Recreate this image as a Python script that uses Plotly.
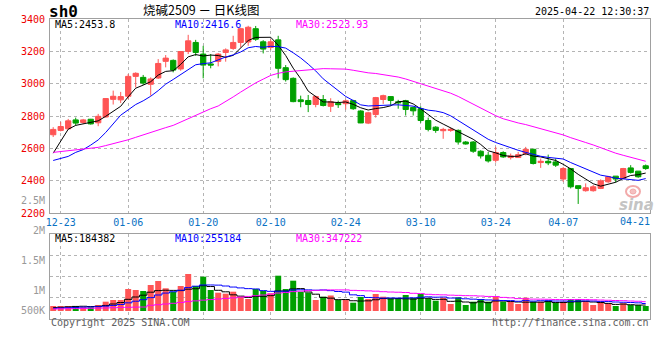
import plotly.graph_objects as go

# ---------------- data ----------------
dates = [
    "2024-12-20", "2024-12-23", "2024-12-24", "2024-12-25", "2024-12-26", "2024-12-27", "2024-12-30", "2024-12-31",
    "2025-01-02", "2025-01-03", "2025-01-06", "2025-01-07", "2025-01-08", "2025-01-09", "2025-01-10",
    "2025-01-13", "2025-01-14", "2025-01-15", "2025-01-16", "2025-01-17", "2025-01-20", "2025-01-21",
    "2025-01-22", "2025-01-23", "2025-01-24", "2025-01-27", "2025-02-05", "2025-02-06", "2025-02-07",
    "2025-02-10", "2025-02-11", "2025-02-12", "2025-02-13", "2025-02-14", "2025-02-17", "2025-02-18",
    "2025-02-19", "2025-02-20", "2025-02-21", "2025-02-24", "2025-02-25", "2025-02-26", "2025-02-27",
    "2025-02-28", "2025-03-03", "2025-03-04", "2025-03-05", "2025-03-06", "2025-03-07", "2025-03-10",
    "2025-03-11", "2025-03-12", "2025-03-13", "2025-03-14", "2025-03-17", "2025-03-18", "2025-03-19",
    "2025-03-20", "2025-03-21", "2025-03-24", "2025-03-25", "2025-03-26", "2025-03-27", "2025-03-28",
    "2025-03-31", "2025-04-01", "2025-04-02", "2025-04-03", "2025-04-07", "2025-04-08", "2025-04-09",
    "2025-04-10", "2025-04-11", "2025-04-14", "2025-04-15", "2025-04-16", "2025-04-17", "2025-04-18",
    "2025-04-21", "2025-04-22",
]

open_ = [2684, 2711, 2721, 2776, 2760, 2780, 2758, 2794, 2903, 2900,
         2922, 3045, 3039, 2996, 3035, 3138, 3144, 3091, 3199, 3255,
         3183, 3122, 3138, 3193, 3218, 3255, 3258, 3340, 3259, 3224,
         3271, 3099, 3033, 2900, 2896, 2871, 2902, 2860, 2878, 2876,
         2895, 2831, 2756, 2809, 2902, 2920, 2888, 2895, 2853, 2845,
         2772, 2731, 2709, 2711, 2711, 2639, 2639, 2582, 2557, 2526,
         2574, 2543, 2543, 2568, 2594, 2512, 2520, 2516, 2410, 2475,
         2369, 2338, 2338, 2352, 2393, 2428, 2414, 2479, 2459, 2492]
high = [2731, 2764, 2782, 2790, 2782, 2782, 2813, 2910, 2957, 2949,
        3060, 3070, 3054, 3039, 3152, 3177, 3150, 3200, 3302, 3271,
        3234, 3183, 3189, 3218, 3296, 3346, 3358, 3357, 3269, 3275,
        3296, 3115, 3039, 2926, 2930, 2926, 2930, 2910, 2895, 2902,
        2900, 2836, 2826, 2918, 2932, 2922, 2900, 2900, 2858, 2860,
        2790, 2737, 2727, 2727, 2717, 2645, 2645, 2588, 2578, 2609,
        2582, 2568, 2578, 2609, 2598, 2537, 2561, 2537, 2485, 2479,
        2369, 2383, 2373, 2408, 2430, 2428, 2479, 2496, 2459, 2500]
low = [2670, 2705, 2717, 2741, 2751, 2747, 2737, 2790, 2871, 2880,
       2905, 2977, 2992, 2926, 3029, 3101, 3070, 3080, 3183, 3172,
       3033, 3095, 3107, 3136, 3209, 3224, 3234, 3265, 3187, 3209,
       3033, 3013, 2885, 2854, 2824, 2854, 2859, 2825, 2850, 2840,
       2838, 2756, 2750, 2790, 2875, 2863, 2845, 2803, 2803, 2758,
       2705, 2696, 2659, 2702, 2623, 2623, 2572, 2537, 2512, 2512,
       2541, 2531, 2541, 2557, 2500, 2479, 2496, 2485, 2393, 2352,
       2256, 2332, 2332, 2348, 2387, 2389, 2410, 2444, 2418, 2467]
close = [2717, 2735, 2770, 2756, 2776, 2751, 2798, 2908, 2922, 2920,
         3045, 3064, 3004, 3029, 3125, 3158, 3084, 3199, 3265, 3193,
         3115, 3115, 3183, 3209, 3255, 3340, 3349, 3275, 3214, 3259,
         3095, 3025, 2889, 2889, 2871, 2920, 2865, 2888, 2870, 2894,
         2845, 2757, 2820, 2914, 2926, 2896, 2882, 2840, 2832, 2772,
         2717, 2711, 2717, 2717, 2639, 2627, 2582, 2553, 2522, 2574,
         2547, 2553, 2561, 2594, 2506, 2520, 2510, 2496, 2475, 2362,
         2352, 2356, 2362, 2399, 2424, 2410, 2475, 2451, 2424, 2475]

ma5 = [2570, 2645, 2718, 2742, 2751, 2758, 2770, 2798, 2831, 2860,
       2919, 2972, 2991, 3012, 3053, 3076, 3080, 3119, 3166, 3180,
       3171, 3177, 3174, 3163, 3175, 3220, 3267, 3286, 3287, 3287,
       3238, 3174, 3096, 3031, 2954, 2919, 2887, 2887, 2883, 2887,
       2872, 2851, 2837, 2846, 2852, 2863, 2888, 2892, 2875, 2844,
       2809, 2774, 2750, 2727, 2700, 2682, 2656, 2624, 2585, 2572,
       2556, 2550, 2551, 2566, 2552, 2547, 2538, 2525, 2501, 2473,
       2439, 2408, 2381, 2366, 2379, 2390, 2414, 2432, 2437, 2447]
ma10 = [2525, 2537, 2550, 2575, 2592, 2620, 2652, 2698, 2750, 2805,
        2838, 2871, 2894, 2922, 2957, 2997, 3026, 3055, 3089, 3117,
        3124, 3129, 3147, 3165, 3178, 3196, 3222, 3230, 3225, 3231,
        3229, 3220, 3191, 3159, 3121, 3079, 3030, 2992, 2957, 2921,
        2896, 2869, 2862, 2864, 2870, 2868, 2869, 2864, 2861, 2848,
        2836, 2831, 2821, 2801, 2772, 2745, 2715, 2687, 2656, 2636,
        2619, 2603, 2588, 2575, 2562, 2551, 2544, 2538, 2534, 2512,
        2493, 2473, 2453, 2434, 2426, 2415, 2411, 2407, 2402, 2413]
ma30 = [2575, 2580, 2585, 2590, 2595, 2600, 2606, 2617, 2628, 2641,
        2653, 2668, 2684, 2699, 2714, 2728, 2742, 2763, 2783, 2805,
        2825, 2845, 2862, 2888, 2918, 2948, 2978, 3005, 3028, 3051,
        3064, 3073, 3077, 3082, 3085, 3091, 3093, 3092, 3090, 3090,
        3083, 3073, 3067, 3063, 3056, 3047, 3041, 3029, 3014, 3000,
        2987, 2973, 2958, 2941, 2921, 2897, 2872, 2848, 2824, 2802,
        2783, 2768, 2757, 2747, 2735, 2721, 2710, 2696, 2683, 2666,
        2649, 2636, 2621, 2603, 2587, 2570, 2557, 2544, 2530, 2520]

# volume, in 10,000 lots (万手)
volume = [17.5, 17.5, 17.5, 17.5, 13.0, 13.0, 21.0, 32.6, 38.5, 38.5,
          77.0, 73.5, 70.0, 91.0, 105.0, 79.5, 67.6, 87.5, 129.5, 87.5,
          120.1, 73.5, 64.1, 60.6, 67.6, 50.1, 42.0, 77.0, 70.0, 62.0,
          123.6, 77.0, 106.1, 67.6, 64.1, 38.5, 50.1, 54.3, 38.5, 40.3,
          29.1, 49.0, 42.0, 59.5, 50.1, 44.5, 45.5, 56.0, 45.5, 59.5,
          44.5, 36.1, 46.6, 24.5, 48.0, 21.0, 32.6, 42.0, 32.6, 50.1,
          32.6, 32.6, 24.5, 46.6, 32.6, 32.6, 36.1, 29.1, 32.6, 42.0,
          42.0, 35.0, 21.0, 32.6, 27.0, 17.5, 27.0, 21.0, 21.0, 17.5]
vol_ma5 = [12.0, 13.0, 14.5, 16.0, 16.6, 15.7, 16.4, 19.4, 24.5, 29.6,
           40.8, 49.0, 55.3, 65.8, 71.4, 72.6, 72.1, 71.4, 76.3, 77.9,
           88.4, 85.6, 72.5, 67.2, 56.7, 52.0, 47.6, 50.8, 51.3, 53.7,
           70.0, 70.0, 77.2, 78.4, 66.5, 58.8, 47.6, 44.9, 39.8, 40.1,
           35.9, 34.9, 35.6, 39.4, 43.6, 42.7, 43.4, 42.7, 41.8, 44.8,
           44.6, 40.6, 40.8, 33.8, 34.5, 31.5, 28.7, 32.2, 29.1, 35.0,
           35.0, 33.1, 31.5, 30.8, 30.8, 30.8, 33.1, 29.6, 29.6, 31.5,
           32.6, 33.8, 31.5, 29.6, 26.6, 23.1, 24.3, 22.0, 20.8, 20.8]
vol_ma10 = [9.5, 10.5, 11.5, 12.5, 13.5, 14.0, 15.0, 17.0, 19.5, 22.7,
            28.6, 34.2, 39.5, 46.8, 56.0, 62.7, 67.3, 72.8, 81.9, 86.8,
            91.1, 91.1, 90.5, 87.5, 83.8, 80.8, 78.3, 77.2, 71.3, 68.7,
            69.1, 69.4, 73.6, 74.3, 74.0, 72.8, 73.6, 71.3, 68.2, 66.0,
            56.6, 53.8, 47.4, 46.5, 45.1, 45.7, 45.3, 45.5, 46.2, 48.1,
            49.6, 48.3, 48.8, 45.3, 45.1, 42.7, 41.4, 40.0, 38.7, 37.8,
            36.6, 36.3, 34.1, 36.3, 34.7, 35.9, 36.2, 34.9, 34.9, 34.1,
            35.1, 35.3, 35.0, 33.6, 33.0, 31.5, 30.6, 29.8, 28.6, 26.2]
vol_ma30 = [7.0, 7.5, 8.0, 8.5, 9.0, 9.5, 10.0, 10.5, 11.5, 12.5,
            13.0, 13.5, 14.0, 20.0, 22.0, 24.5, 27.0, 30.0, 33.0, 35.5,
            38.0, 40.0, 42.0, 44.0, 46.0, 48.5, 51.0, 53.5, 56.0, 59.4,
            62.9, 64.9, 67.9, 69.5, 71.2, 72.1, 73.1, 73.8, 73.8, 73.8,
            72.2, 71.4, 70.5, 69.4, 67.6, 66.4, 65.7, 64.7, 61.9, 60.9,
            58.4, 57.2, 56.6, 55.4, 54.7, 53.8, 53.4, 52.3, 51.0, 50.6,
            47.6, 46.1, 43.4, 42.7, 41.6, 41.4, 41.0, 40.1, 39.9, 40.0,
            40.4, 40.0, 39.3, 38.4, 37.6, 36.7, 36.1, 34.9, 34.1, 32.7]

tick_dates = ["2024-12-23", "2025-01-06", "2025-01-20", "2025-02-10", "2025-02-24",
              "2025-03-10", "2025-03-24", "2025-04-07"]
tick_labels = ["12-23", "01-06", "01-20", "02-10", "02-24", "03-10", "03-24", "04-07"]
last_tick_date = "2025-04-21"
last_tick_label = "04-21"
price_ticks = [2200, 2400, 2600, 2800, 3000, 3200, 3400]
vol_axis_labels = ["2.5M", "2M", "1.5M", "1M", "500K"]

title_text = "烧碱2509 － 日K线图"
symbol_text = "sh0"
time_text = "2025-04-22 12:30:37"
ma_price_text = ["MA5:2453.8", "MA10:2416.6", "MA30:2523.93"]
ma_vol_text = ["MA5:184382", "MA10:255184", "MA30:347222"]
footer_left = "Copyright 2025 SINA.COM"
footer_right = "http://finance.sina.com.cn"

# ---------------- style / layout ----------------
W, H = 660, 360
ML, MR, MT, MB = 50, 10, 19, 41
MONO = "DejaVu Sans Mono"
UP, DOWN = "#ff5555", "#00a000"
GRID, AXIS = "#b4b4b4", "#a0a0a0"
BLUE_TICK = "#0a72c4"
MA_COLORS = ["#000000", "#0000ff", "#ff00ff"]


def yp(px):
    return (H - MB - px) / (H - MT - MB)


def xp(px):
    return (px - ML) / (W - ML - MR)


vol_range = [-28, 269.5]
vol_grid = [vol_range[0] + (vol_range[1] - vol_range[0]) * k / 4 for k in (1, 2, 3)]
x_range = [-0.427, len(dates) - 0.427]

fig = go.Figure()

fig.add_trace(go.Candlestick(
    x=dates, open=open_, high=high, low=low, close=close,
    increasing=dict(line=dict(color=UP, width=1), fillcolor=UP),
    decreasing=dict(line=dict(color=DOWN, width=1), fillcolor=DOWN),
    whiskerwidth=0, xaxis="x", yaxis="y", hoverinfo="skip",
))
for ser, col in zip([ma5, ma10, ma30], MA_COLORS):
    fig.add_trace(go.Scatter(x=dates, y=ser, mode="lines", line=dict(color=col, width=1),
                             xaxis="x", yaxis="y", hoverinfo="skip"))

vol_colors = [UP if c >= o else DOWN for o, c in zip(open_, close)]
fig.add_trace(go.Bar(x=dates, y=volume, marker=dict(color=vol_colors, line=dict(width=0)),
                     width=0.8, xaxis="x2", yaxis="y2", hoverinfo="skip"))
for ser, col in zip([vol_ma5, vol_ma10, vol_ma30], MA_COLORS):
    fig.add_trace(go.Scatter(x=dates, y=ser, mode="lines", line=dict(color=col, width=1, shape="hvh"),
                             xaxis="x2", yaxis="y2", hoverinfo="skip"))

common_x = dict(type="category", categoryorder="array", categoryarray=dates, range=x_range,
                tickmode="array", tickvals=tick_dates, showgrid=True, gridcolor=GRID, griddash="dot",
                gridwidth=1, showline=True, linecolor=AXIS, linewidth=1, mirror=True, ticks="",
                fixedrange=True, zeroline=False)

annotations = []


def txt(text, x_px, y_px, color, size=10, xanchor="left", family=MONO):
    annotations.append(dict(text=text, x=xp(x_px), y=yp(y_px), xref="paper", yref="paper",
                            xanchor=xanchor, yanchor="middle", showarrow=False,
                            font=dict(family=family, size=size, color=color)))


txt("<b>" + symbol_text + "</b>", 47, 12, "#000000", size=16)
txt(title_text, 201, 10, "#000000", size=12.5, xanchor="center", family="Noto Sans CJK SC")
txt(time_text, 651, 11, "#000000", size=10, xanchor="right")
for t, xpx, col in zip(ma_price_text, [53, 173, 294], MA_COLORS):
    txt(t, xpx, 24, col)
for t, xpx, col in zip(ma_vol_text, [53, 173, 294], MA_COLORS):
    txt(t, xpx, 238.5, col)
for t, ypx in zip(vol_axis_labels, [200.5, 230.7, 260.7, 290.7, 310.7]):
    txt(t, 47, ypx, "#999999", xanchor="right")
txt(footer_left, 49, 322.5, "#606060")
txt(footer_right, 651, 322.5, "#606060", xanchor="right")
txt("<b><i>sina</i></b>", 636, 205, "#c4c4c4", size=15, xanchor="center", family="DejaVu Sans")
annotations.append(dict(text=last_tick_label, x=last_tick_date, xref="x", y=yp(221), yref="paper",
                        xanchor="center", yanchor="middle", xshift=-3, showarrow=False,
                        font=dict(family=MONO, size=10, color=BLUE_TICK)))

shapes = [
    dict(type="circle", xref="paper", yref="paper", x0=xp(626), x1=xp(640), y0=yp(197), y1=yp(186),
         line=dict(color="#f2aaaa", width=2)),
    dict(type="circle", xref="paper", yref="paper", x0=xp(630), x1=xp(636), y0=yp(194), y1=yp(189),
         line=dict(color="#f2aaaa", width=1), fillcolor="#f5c0c0"),
]

fig.update_layout(
    width=W, height=H,
    margin=dict(l=ML, r=MR, t=MT, b=MB),
    paper_bgcolor="white", plot_bgcolor="white",
    showlegend=False, hovermode=False, bargap=0.2,
    boxgap=0.3, boxgroupgap=0,
    xaxis=dict(**common_x, domain=[0, 1], anchor="y", ticktext=tick_labels,
               tickfont=dict(family=MONO, size=10, color=BLUE_TICK),
               rangeslider=dict(visible=False)),
    xaxis2=dict(**common_x, domain=[0, 1], anchor="y2", matches="x", showticklabels=False),
    yaxis=dict(domain=[yp(213), 1], anchor="x", range=[2200, 3400], tickmode="array",
               tickvals=price_ticks, tickfont=dict(family=MONO, size=10, color="#ee0000"),
               showgrid=True, gridcolor=GRID, griddash="dot", zeroline=False,
               showline=True, linecolor=AXIS, linewidth=1, mirror=True,
               ticks="outside", ticklen=2, tickcolor="rgba(0,0,0,0)", fixedrange=True),
    yaxis2=dict(domain=[0, yp(234)], anchor="x2", range=vol_range, tickmode="array",
                tickvals=vol_grid, showticklabels=False, showgrid=True, gridcolor=GRID,
                griddash="dot", zeroline=False, showline=True, linecolor=AXIS, linewidth=1,
                mirror=True, ticks="", fixedrange=True),
    annotations=annotations,
    shapes=shapes,
)

fig.write_html("out.html", config={"displayModeBar": False, "staticPlot": True},
               post_script="document.body.style.margin='0px';")
